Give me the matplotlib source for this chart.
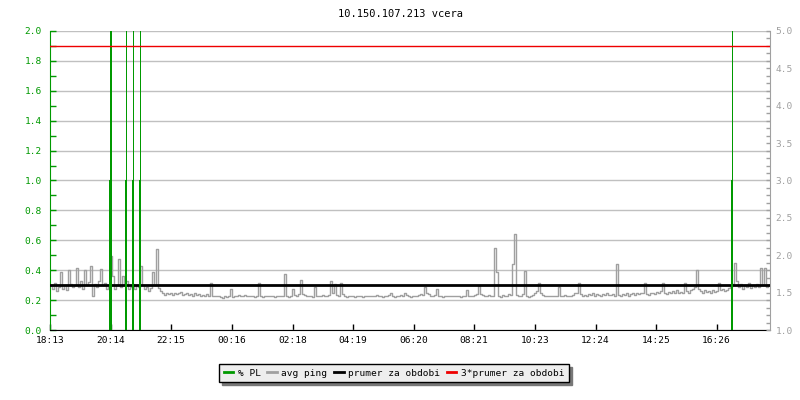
import matplotlib
matplotlib.use('Agg')
import matplotlib.pyplot as plt
from matplotlib.ticker import MultipleLocator, FixedLocator, FormatStrFormatter
from matplotlib.lines import Line2D

title = "10.150.107.213 vcera"
tick_minutes = [0, 121, 242, 363, 485, 606, 727, 848, 970, 1091, 1212, 1333]
tick_labels = ["18:13", "20:14", "22:15", "00:16", "02:18", "04:19",
               "06:20", "08:21", "10:23", "12:24", "14:25", "16:26"]

ping_step = 4  # minutes per sample
avg_ping = [
    1.60, 1.55, 1.63, 1.52, 1.58, 1.78, 1.55, 1.60, 1.53, 1.80, 1.62, 1.57, 1.60, 1.83, 1.58, 1.66, 1.55, 1.80, 1.60, 1.64,
    1.86, 1.45, 1.62, 1.58, 1.65, 1.82, 1.60, 1.63, 1.55, 1.58, 1.99, 1.72, 1.55, 1.60, 1.95, 1.58, 1.72, 1.62, 1.66, 1.55,
    1.58, 1.62, 1.55, 1.60, 1.57, 1.85, 1.60, 1.55, 1.58, 1.52, 1.56, 1.78, 1.60, 2.08, 1.56, 1.52, 1.50, 1.47, 1.50, 1.48,
    1.49, 1.47, 1.50, 1.48, 1.49, 1.51, 1.47, 1.48, 1.50, 1.47, 1.48, 1.46, 1.49, 1.47, 1.48, 1.46, 1.47, 1.46, 1.48, 1.46,
    1.63, 1.46, 1.45, 1.46, 1.45, 1.44, 1.43, 1.45, 1.44, 1.46, 1.55, 1.44, 1.46, 1.45, 1.47, 1.46, 1.45, 1.47, 1.46, 1.45,
    1.46, 1.45, 1.44, 1.46, 1.63, 1.45, 1.44, 1.45, 1.46, 1.45, 1.46, 1.45, 1.44, 1.46, 1.45, 1.46, 1.45, 1.75, 1.46, 1.44,
    1.45, 1.55, 1.47, 1.46, 1.48, 1.67, 1.48, 1.47, 1.45, 1.46, 1.45, 1.44, 1.57, 1.45, 1.46, 1.45, 1.47, 1.46, 1.45, 1.47,
    1.66, 1.50, 1.62, 1.47, 1.46, 1.63, 1.48, 1.45, 1.44, 1.45, 1.46, 1.45, 1.44, 1.45, 1.46, 1.45, 1.44, 1.46, 1.45, 1.46,
    1.45, 1.46, 1.45, 1.47, 1.46, 1.45, 1.44, 1.46, 1.45, 1.47, 1.50, 1.45, 1.44, 1.46, 1.45, 1.47, 1.46, 1.50, 1.47, 1.46,
    1.44, 1.45, 1.46, 1.45, 1.47, 1.48, 1.47, 1.57, 1.49, 1.48, 1.46, 1.45, 1.47, 1.55, 1.46, 1.45, 1.44, 1.45, 1.46, 1.45,
    1.45, 1.46, 1.45, 1.46, 1.45, 1.44, 1.46, 1.45, 1.53, 1.45, 1.46, 1.45, 1.47, 1.48, 1.59, 1.48, 1.47, 1.46, 1.45, 1.47,
    1.46, 1.45, 2.10, 1.77, 1.46, 1.44, 1.47, 1.45, 1.46, 1.48, 1.47, 1.88, 2.29, 1.47, 1.45, 1.46, 1.48, 1.79, 1.46, 1.44,
    1.45, 1.47, 1.50, 1.52, 1.63, 1.50, 1.47, 1.46, 1.45, 1.46, 1.45, 1.46, 1.45, 1.46, 1.57, 1.46, 1.45, 1.47, 1.46, 1.45,
    1.46, 1.47, 1.49, 1.50, 1.63, 1.48, 1.46, 1.47, 1.46, 1.48, 1.47, 1.49, 1.46, 1.48, 1.47, 1.45, 1.48, 1.47, 1.49, 1.47,
    1.47, 1.48, 1.46, 1.88, 1.47, 1.46, 1.48, 1.47, 1.49, 1.46, 1.48, 1.50, 1.47, 1.49, 1.48, 1.50, 1.49, 1.63, 1.48, 1.47,
    1.49, 1.50, 1.48, 1.51, 1.49, 1.52, 1.63, 1.50, 1.48, 1.51, 1.49, 1.52, 1.50, 1.53, 1.49, 1.51, 1.50, 1.63, 1.52, 1.50,
    1.53, 1.55, 1.58, 1.80, 1.55, 1.52, 1.50, 1.53, 1.51, 1.52, 1.50, 1.53, 1.51, 1.52, 1.63, 1.53, 1.55, 1.52, 1.54, 1.56,
    1.57, 1.62, 1.89, 1.65, 1.58, 1.62, 1.55, 1.60, 1.57, 1.63, 1.56, 1.60, 1.58, 1.62, 1.57, 1.83, 1.60, 1.83, 1.58, 1.60,
]

pl_minutes = [119, 121, 123, 151, 153, 165, 167, 179, 181, 1363, 1365]
pl_values = [1.0, 3.0, 3.0, 1.0, 3.0, 1.0, 3.0, 1.0, 3.0, 1.0, 3.0]

prumer = 1.6
legend_labels = ["% PL", "avg ping", "prumer za obdobi", "3*prumer za obdobi"]

GREEN = '#009900'
GRAY = '#a0a0a0'
RED = '#ee0000'
FONT = 'DejaVu Sans Mono'
plt.rcParams['font.family'] = FONT

fig = plt.figure(figsize=(8, 4), dpi=100)
ax = fig.add_axes([50 / 800, 70 / 400, 720 / 800, 299 / 400])
ax2 = ax.twinx()

ax.set_xlim(0, 1440)
ax.set_ylim(0, 2.0)
ax2.set_ylim(1.0, 5.0)

# ping series (right scale)
xs = [ping_step * i + ping_step / 2 for i in range(len(avg_ping))]
ax2.plot(xs, avg_ping, drawstyle='steps-mid', color=GRAY, lw=1.0, zorder=2)
ax2.axhline(prumer, color='black', lw=2.0, zorder=3)
ax2.axhline(3 * prumer, color=RED, lw=1.0, zorder=5)

# packet loss (left scale), drawn on ax2 with ax's data transform
for m, v in zip(pl_minutes, pl_values):
    ax2.bar(m, v, width=2.0, bottom=0, color=GREEN, linewidth=0,
            antialiased=False, transform=ax.transData, zorder=4)
ax2.set_ylim(1.0, 5.0)

# grid
ax.yaxis.set_major_locator(MultipleLocator(0.2))
ax.yaxis.set_minor_locator(MultipleLocator(0.1))
ax.yaxis.set_major_formatter(FormatStrFormatter('%.1f'))
ax.grid(axis='y', which='major', color='#c0c0c0', lw=1.0)
ax.grid(axis='x', visible=False)
ax.set_axisbelow(True)

ax2.yaxis.set_major_locator(MultipleLocator(0.5))
ax2.yaxis.set_minor_locator(MultipleLocator(0.1))
ax2.yaxis.set_major_formatter(FormatStrFormatter('%.1f'))

ax.xaxis.set_major_locator(FixedLocator(tick_minutes))
ax.set_xticklabels(tick_labels)

fs = 6.8
ax.tick_params(axis='x', direction='in', length=4, width=1, color='black',
               labelsize=fs, labelcolor='black', pad=4)
ax.tick_params(axis='y', which='both', direction='in', length=4, width=1,
               color=GREEN, labelsize=fs, labelcolor=GREEN, pad=6)
ax2.tick_params(axis='y', which='both', direction='in', length=3, width=1,
                color=GRAY, labelsize=fs, labelcolor=GRAY, pad=4)

for a in (ax, ax2):
    a.spines['top'].set_visible(False)
ax.spines['left'].set_color(GREEN)
ax.spines['bottom'].set_color('black')
ax.spines['right'].set_visible(False)
ax2.spines['left'].set_visible(False)
ax2.spines['bottom'].set_visible(False)
ax2.spines['right'].set_color(GRAY)

fig.text(0.5, 1 - 14 / 400, title, ha='center', va='center', fontsize=7.5)

handles = [Line2D([], [], color=c, lw=2) for c in [GREEN, GRAY, 'black', RED]]
leg = fig.legend(handles, legend_labels, loc='center', ncol=4,
                 bbox_to_anchor=(394 / 800, 1 - 373 / 400),
                 fontsize=fs, handlelength=1.0, handletextpad=0.5,
                 columnspacing=0.7, borderpad=0.5, fancybox=False,
                 edgecolor='black', facecolor='#eeeeee', framealpha=1,
                 shadow={'color': '#777777', 'alpha': 1.0, 'ox': 2, 'oy': -2})
leg.get_frame().set_linewidth(1.0)

fig.savefig('out.png', dpi=100)
